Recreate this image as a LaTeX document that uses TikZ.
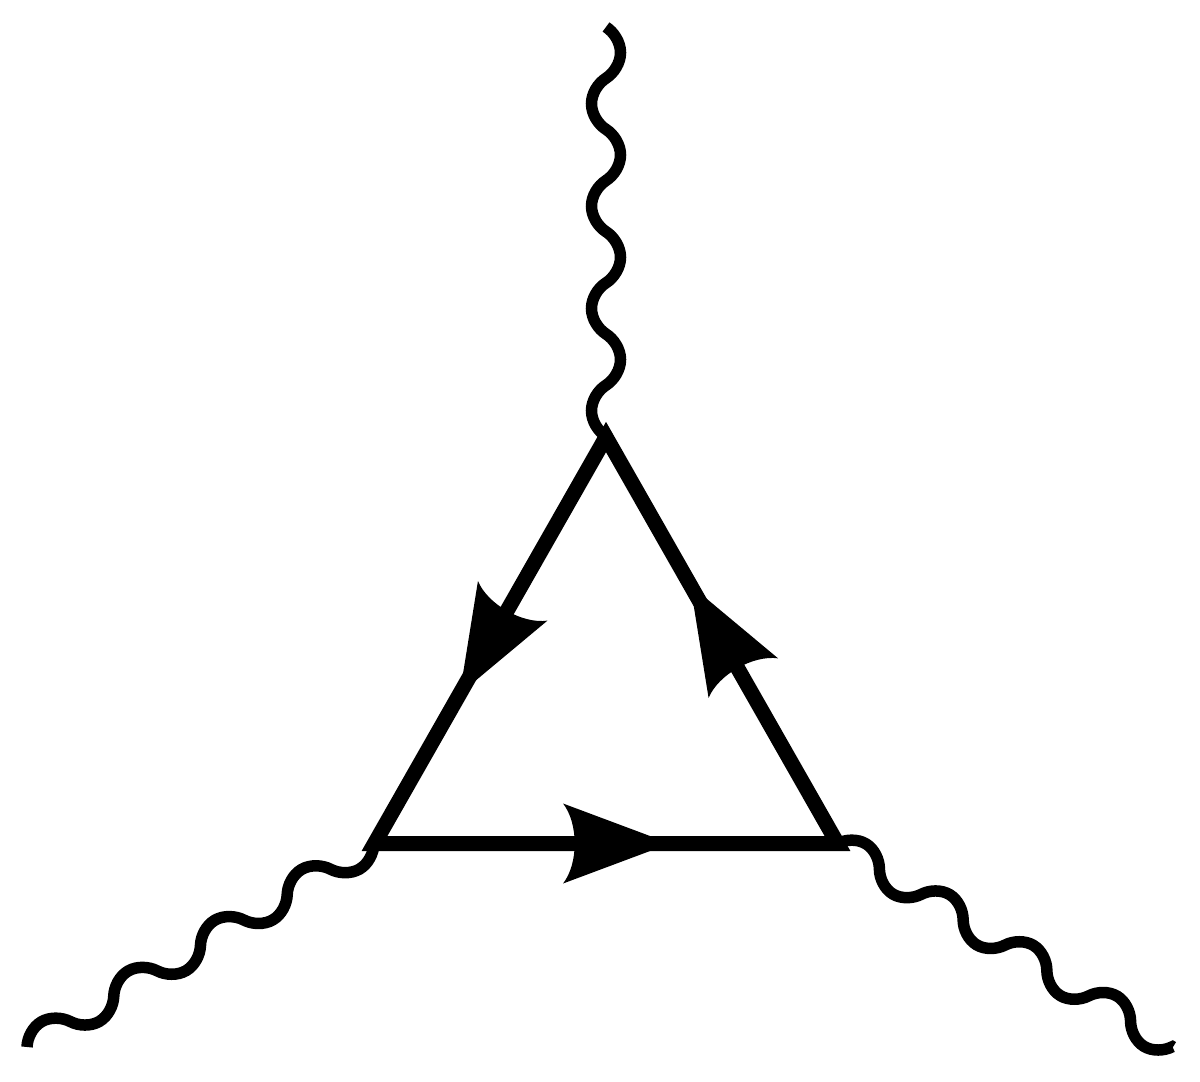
\documentclass[tikz,border=0pt]{standalone}
\usetikzlibrary{decorations.markings,decorations.pathmorphing}

% four periods of the wave, whatever the length of the path
\def\waveL{\pgfdecoratedpathlength}
\pgfdeclaredecoration{photon}{rise}{
  \state{rise}[width=0.0624*\waveL,next state=fall]{
    \pgfpathcurveto{\pgfpoint{0.0125*\waveL}{0.55*\pgfdecorationsegmentamplitude}}{\pgfpoint{0.0375*\waveL}{\pgfdecorationsegmentamplitude}}{\pgfpoint{0.0625*\waveL}{\pgfdecorationsegmentamplitude}}}
  \state{fall}[width=0.0624*\waveL,next state=sink]{
    \pgfpathcurveto{\pgfpoint{0.025*\waveL}{\pgfdecorationsegmentamplitude}}{\pgfpoint{0.05*\waveL}{0.55*\pgfdecorationsegmentamplitude}}{\pgfpoint{0.0625*\waveL}{0pt}}}
  \state{sink}[width=0.0624*\waveL,next state=back]{
    \pgfpathcurveto{\pgfpoint{0.0125*\waveL}{-0.55*\pgfdecorationsegmentamplitude}}{\pgfpoint{0.0375*\waveL}{-\pgfdecorationsegmentamplitude}}{\pgfpoint{0.0625*\waveL}{-\pgfdecorationsegmentamplitude}}}
  \state{back}[width=0.0624*\waveL,next state=rise]{
    \pgfpathcurveto{\pgfpoint{0.025*\waveL}{-\pgfdecorationsegmentamplitude}}{\pgfpoint{0.05*\waveL}{-0.55*\pgfdecorationsegmentamplitude}}{\pgfpoint{0.0625*\waveL}{0pt}}}
  \state{final}{\pgfpathlineto{\pgfpointdecoratedpathlast}}
}

\newcommand{\headtip}{\fill (0,0) -- (-107,40) .. controls (-91.5,20) and (-91.5,-20) .. (-107,-40) -- cycle;}

\tikzset{
  wave/.style={line width=2.3mm,decorate,decoration={photon,amplitude=2.9mm}},
  loop/.style={line width=3mm,miter limit=10,postaction={decorate},
    decoration={markings,
      mark=at position 0.2113 with {\headtip},
      mark=at position 0.5458 with {\headtip},
      mark=at position 0.8781 with {\headtip}}}
}

\begin{document}
\begin{tikzpicture}[x=0.2mm,y=-0.2mm]
\useasboundingbox (0,0) rectangle (1200,1081);

\coordinate (top) at (606,437);
\coordinate (left) at (374.5,843.5);
\coordinate (right) at (837.5,843.5);
\coordinate (topend) at (606,27);
\coordinate (leftend) at (27,1047);
\coordinate (rightend) at (1173,1047);

\draw [loop] (top) -- (left) -- (right) -- cycle;

\draw [wave] (topend) -- (top);
\draw [wave] (leftend) -- (left);
\draw [wave] (right) -- (rightend);

\end{tikzpicture}
\end{document}
